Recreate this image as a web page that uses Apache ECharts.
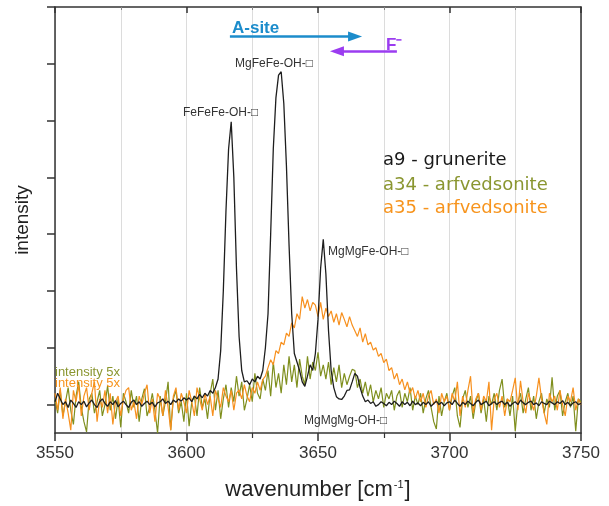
<!DOCTYPE html>
<html>
<head>
<meta charset="utf-8">
<script src="https://cdn.jsdelivr.net/npm/echarts@6/dist/echarts.min.js"></script>
<style>
html,body{margin:0;padding:0;background:#fff;}
#chart{width:609px;height:506px;}
</style>
</head>
<body>
<div id="chart"></div>
<script>
// ---- data (wavenumber grid: 3550..3750 cm^-1, step 1) ----
var wnStart = 3550;
var wnStep = 1;
var xTicks = [3550, 3600, 3650, 3700, 3750];
var yTicks = [0, 1, 2, 3, 4, 5, 6, 7];

var a9_grunerite = [
 0.05, 0.20, 0.10, 0.00, 0.05, -0.05, 0.08, 0.02, -0.05, 0.05,
 0.00, 0.06, -0.04, 0.03, 0.08, 0.00, -0.05, 0.05, 0.10, 0.02,
 -0.03, 0.05, 0.00, 0.07, -0.04, 0.02, 0.06, 0.00, -0.05, 0.04,
 0.08, 0.00, 0.05, -0.03, 0.02, 0.06, 0.00, 0.04, -0.04, 0.03,
 0.05, 0.10, 0.02, 0.06, 0.00, 0.08, 0.04, 0.10, 0.06, 0.12,
 0.08, 0.12, 0.05, 0.15, 0.10, 0.18, 0.12, 0.20, 0.15, 0.25,
 0.20, 0.30, 0.45, 0.95, 2.00, 3.40, 4.50, 4.98, 4.00, 2.40,
 1.20, 0.60, 0.40, 0.42, 0.35, 0.45, 0.40, 0.50, 0.45, 0.60,
 1.00, 1.60, 3.00, 4.50, 5.40, 5.80, 5.86, 5.30, 4.20, 2.80,
 1.60, 0.90, 0.75, 0.60, 0.40, 0.32, 0.50, 0.70, 0.60, 0.90,
 1.50, 2.40, 2.91, 2.30, 1.30, 0.60, 0.30, 0.14, 0.10, 0.09,
 0.15, 0.25, 0.26, 0.40, 0.55, 0.50, 0.30, 0.15, 0.05, 0.08,
 0.02, 0.05, -0.03, 0.00, 0.05, 0.02, -0.02, 0.04, 0.00, 0.06,
 0.02, -0.03, 0.05, 0.00, 0.04, -0.02, 0.06, 0.00, 0.03, -0.02,
 0.04, 0.00, 0.05, -0.03, 0.02, 0.06, 0.00, 0.04, -0.02, 0.03,
 0.05, 0.00, 0.08, 0.02, -0.03, 0.04, 0.00, 0.06, 0.02, -0.02,
 0.04, 0.08, 0.00, 0.03, 0.06, -0.02, 0.02, 0.05, 0.00, 0.04,
 0.06, 0.00, 0.04, -0.03, 0.02, 0.05, 0.00, 0.08, 0.03, 0.00,
 0.04, 0.06, 0.00, 0.03, -0.02, 0.05, 0.02, 0.00, 0.06, 0.03,
 0.00, 0.05, 0.02, 0.07, 0.00, 0.04, -0.02, 0.03, 0.05, 0.00,
 0.02
];

var a34_arfvedsonite = [
 0.10, -0.15, 0.25, -0.20, 0.05, 0.30, -0.10, -0.35, 0.15, 0.40,
 -0.05, -0.30, -0.48, 0.10, 0.20, -0.15, 0.05, 0.25, -0.20, 0.00,
 0.33, -0.10, 0.15, -0.25, 0.10, -0.40, 0.20, 0.05, -0.15, 0.25,
 -0.05, 0.15, -0.30, 0.10, 0.28, -0.20, -0.05, 0.20, -0.10, -0.50,
 0.15, -0.20, 0.05, 0.40, -0.45, 0.10, 0.25, -0.15, 0.05, -0.30,
 0.20, -0.38, 0.05, 0.15, -0.20, 0.30, -0.05, 0.10, -0.25, 0.20,
 0.45, -0.10, 0.25, -0.25, 0.10, 0.35, -0.05, 0.30, 0.05, 0.50,
 0.15, 0.40, -0.10, 0.10, 0.35, 0.05, 0.55, 0.20, 0.10, 0.45,
 0.25, 0.60, 0.15, 0.75, 0.30, 0.55, 0.20, 0.70, 0.35, 0.85,
 0.40, 0.70, 0.30, 0.80, 0.50, 0.35, 0.85, 0.45, 0.75, 0.60,
 0.92, 0.50, 0.70, 0.45, 0.75, 0.35, 0.65, 0.40, 0.70, 0.30,
 0.55, 0.35, 0.50, 0.62, 0.60, 0.30, 0.45, 0.20, 0.40, 0.15,
 0.35, 0.05, 0.25, 0.10, 0.30, -0.05, 0.20, 0.10, 0.25, -0.10,
 0.15, 0.25, -0.05, 0.20, 0.05, 0.30, -0.10, 0.15, 0.00, 0.20,
 -0.15, 0.10, 0.25, -0.05, -0.30, -0.43, 0.15, -0.20, 0.05, 0.20,
 -0.10, 0.15, 0.30, -0.20, -0.40, 0.10, 0.25, -0.05, 0.15, -0.25,
 0.05, 0.20, -0.15, 0.10, -0.30, 0.15, 0.00, 0.20, -0.10, 0.25,
 0.45, -0.05, 0.10, -0.20, 0.15, -0.47, 0.05, 0.20, -0.15, 0.10,
 0.30, -0.10, 0.15, -0.25, 0.05, 0.20, -0.15, 0.10, -0.05, 0.48,
 -0.10, 0.15, 0.25, -0.20, 0.05, 0.20, -0.05, 0.15, -0.47, 0.10,
 0.05
];

var a35_arfvedsonite = [
 0.20, -0.10, 0.30, -0.25, 0.10, -0.15, -0.45, 0.25, 0.05, 0.35,
 -0.20, 0.15, 0.30, -0.10, 0.20, 0.40, -0.30, 0.10, -0.05, 0.25,
 -0.15, 0.20, -0.35, 0.05, 0.15, -0.20, 0.10, 0.25, 0.30, -0.10,
 0.05, -0.25, 0.15, 0.00, 0.20, 0.35, -0.15, 0.10, -0.30, 0.20,
 0.10, -0.20, 0.25, -0.05, -0.45, 0.15, 0.30, -0.10, 0.20, 0.05,
 -0.15, 0.25, 0.05, -0.20, 0.30, 0.10, -0.10, 0.20, 0.00, 0.15,
 -0.20, 0.25, 0.10, -0.05, 0.30, 0.15, 0.05, 0.25, -0.10, 0.20,
 0.26, 0.10, 0.35, 0.15, 0.05, 0.30, 0.20, 0.40, 0.25, 0.44,
 0.50, 0.65, 0.79, 0.70, 0.95, 0.90, 1.10, 1.05, 1.26, 1.20,
 1.44, 1.35, 1.60, 1.50, 1.90, 1.70, 1.85, 1.65, 1.80, 1.75,
 1.55, 1.80, 1.50, 1.70, 1.55, 1.65, 1.45, 1.60, 1.40, 1.62,
 1.50, 1.37, 1.55, 1.40, 1.30, 1.20, 1.35, 1.10, 1.25, 1.05,
 1.10, 0.96, 1.00, 0.85, 0.90, 0.74, 0.80, 0.60, 0.65, 0.45,
 0.55, 0.35, 0.45, 0.26, 0.40, 0.20, 0.30, 0.10, 0.25, 0.05,
 0.20, -0.05, 0.15, 0.25, 0.00, 0.10, -0.15, 0.20, 0.05, 0.15,
 -0.10, 0.20, 0.05, 0.40, -0.20, 0.15, -0.05, 0.25, 0.50, -0.15,
 0.10, 0.20, -0.10, 0.15, 0.05, 0.40, -0.45, 0.10, 0.20, -0.05,
 0.15, -0.20, 0.10, 0.05, 0.25, 0.47, -0.10, 0.42, 0.05, -0.15,
 0.20, 0.05, -0.10, 0.15, 0.47, 0.10, -0.15, -0.35, 0.20, 0.05,
 0.15, -0.10, 0.25, 0.00, -0.20, 0.15, 0.05, 0.30, -0.10, 0.10,
 0.00
];

// annotation arrows (data coordinates: [wavenumber, intensity])
var aSiteArrow = [[3616.5, 6.48], [3664.1, 6.48]];
var fArrow = [[3680.0, 6.22], [3657.2, 6.22]];

// ---- build ----
function toPairs(arr) {
  return arr.map(function (v, i) { return [wnStart + i * wnStep, v]; });
}

var COLORS = { a9: '#1e1e1e', a34: '#7f8f1e', a35: '#f7901e' };
var FONT = 'Liberation Sans, Arial, sans-serif';

var chart = echarts.init(document.getElementById('chart'), null, { renderer: 'canvas' });

var axisCommon = {
  type: 'value', min: 3550, max: 3750, interval: 50
};

var option = {
  animation: false,
  textStyle: { fontFamily: FONT },
  grid: { left: 55, right: 28, top: 7, bottom: 72, show: false },
  xAxis: [
    Object.assign({}, axisCommon, {
      position: 'bottom',
      name: '{n|wavenumber [cm}{s|-1}{n|]}',
      nameLocation: 'middle',
      nameGap: 46,
      nameTextStyle: {
        rich: {
          n: { fontSize: 22, color: '#222', fontFamily: FONT, verticalAlign: 'bottom' },
          s: { fontSize: 11, color: '#222', fontFamily: FONT, verticalAlign: 'top', padding: [0, 1, 0, 1] }
        }
      },
      axisLine: { show: true, onZero: false, lineStyle: { color: '#333', width: 1.5 } },
      axisTick: { show: true, inside: false, length: 8, lineStyle: { color: '#333', width: 1.5 } },
      minorTick: { show: true, splitNumber: 2, length: 5, lineStyle: { color: '#333', width: 1.2 } },
      splitLine: { show: true, lineStyle: { color: '#dcdcdc', width: 1 } },
      minorSplitLine: { show: true, lineStyle: { color: '#dcdcdc', width: 1 } },
      axisLabel: { show: true, fontSize: 17, color: '#333', margin: 12, fontFamily: FONT,
        customValues: xTicks, formatter: function (v) { return String(v); } }
    }),
    Object.assign({}, axisCommon, {
      position: 'top',
      axisLine: { show: true, onZero: false, lineStyle: { color: '#333', width: 1.5 } },
      axisTick: { show: true, inside: true, length: 6, lineStyle: { color: '#333', width: 1.5 } },
      minorTick: { show: true, splitNumber: 2, length: 3, lineStyle: { color: '#888', width: 1 } },
      splitLine: { show: false },
      axisLabel: { show: false }
    })
  ],
  yAxis: [
    {
      type: 'value', min: -0.5, max: 7, position: 'left',
      name: 'intensity', nameLocation: 'middle', nameGap: 23,
      nameTextStyle: { fontSize: 19, color: '#222', fontFamily: FONT },
      axisLine: { show: true, onZero: false, lineStyle: { color: '#333', width: 1.5 } },
      axisTick: { show: true, inside: false, length: 8, customValues: yTicks,
        lineStyle: { color: '#333', width: 1.5 } },
      axisLabel: { show: false, customValues: yTicks },
      splitLine: { show: false }
    },
    {
      type: 'value', min: -0.5, max: 7, position: 'right',
      axisLine: { show: true, onZero: false, lineStyle: { color: '#333', width: 1.5 } },
      axisTick: { show: false },
      axisLabel: { show: false },
      splitLine: { show: false }
    }
  ],
  series: [
    {
      name: 'a34 - arfvedsonite', type: 'line', xAxisIndex: 0, yAxisIndex: 0,
      data: toPairs(a34_arfvedsonite), showSymbol: false, smooth: false,
      lineStyle: { color: COLORS.a34, width: 1.2 }, itemStyle: { color: COLORS.a34 },
      emphasis: { disabled: true }, z: 2
    },
    {
      name: 'a35 - arfvedsonite', type: 'line', xAxisIndex: 0, yAxisIndex: 0,
      data: toPairs(a35_arfvedsonite), showSymbol: false, smooth: false,
      lineStyle: { color: COLORS.a35, width: 1.2 }, itemStyle: { color: COLORS.a35 },
      emphasis: { disabled: true }, z: 3
    },
    {
      name: 'a9 - grunerite', type: 'line', xAxisIndex: 0, yAxisIndex: 0,
      data: toPairs(a9_grunerite), showSymbol: false, smooth: false,
      lineStyle: { color: COLORS.a9, width: 1.3 }, itemStyle: { color: COLORS.a9 },
      emphasis: { disabled: true }, z: 4,
      markLine: {
        silent: true, animation: false,
        label: { show: false },
        lineStyle: { type: 'solid' },
        symbolSize: [10, 14],
        data: [
          [
            { coord: aSiteArrow[0], symbol: 'none', lineStyle: { color: '#1c8ccb', width: 2.5, type: 'solid' }, itemStyle: { color: '#1c8ccb' } },
            { coord: aSiteArrow[1], symbol: 'triangle' }
          ],
          [
            { coord: fArrow[0], symbol: 'none', lineStyle: { color: '#9b3cf0', width: 2.5, type: 'solid' }, itemStyle: { color: '#9b3cf0' } },
            { coord: fArrow[1], symbol: 'triangle' }
          ]
        ]
      }
    }
  ],
  graphic: [
    { type: 'text', left: 232, top: 20, z: 100, style: { text: 'A-site', fill: '#1c8ccb', font: 'bold 17px ' + FONT } },
    { type: 'text', left: 386, top: 37, z: 100, style: { text: 'F\u207B', fill: '#9b3cf0', font: 'bold 17px ' + FONT } },

    { type: 'text', left: 235, top: 58, z: 100, style: { text: 'MgFeFe-OH-\u25A1', fill: '#333', font: '12px ' + FONT } },
    { type: 'text', left: 183, top: 107, z: 100, style: { text: 'FeFeFe-OH-\u25A1', fill: '#333', font: '12px ' + FONT } },
    { type: 'text', left: 328, top: 246, z: 100, style: { text: 'MgMgFe-OH-\u25A1', fill: '#333', font: '12px ' + FONT } },
    { type: 'text', left: 304, top: 415, z: 100, style: { text: 'MgMgMg-OH-\u25A1', fill: '#333', font: '12px ' + FONT } },

    { type: 'text', left: 383, top: 151, z: 100, style: { text: 'a9 - grunerite', fill: '#1a1a1a', font: '18px DejaVu Sans, sans-serif' } },
    { type: 'text', left: 383, top: 176, z: 100, style: { text: 'a34 - arfvedsonite', fill: '#8a9630', font: '18px DejaVu Sans, sans-serif' } },
    { type: 'text', left: 383, top: 199, z: 100, style: { text: 'a35 - arfvedsonite', fill: '#f7941d', font: '18px DejaVu Sans, sans-serif' } },

    { type: 'text', left: 55, top: 366, z: 100, style: { text: 'intensity 5x', fill: '#8a9630', font: '13px ' + FONT } },
    { type: 'text', left: 55, top: 377, z: 100, style: { text: 'intensity 5x', fill: '#f7941d', font: '13px ' + FONT } }
  ]
};

chart.setOption(option);
</script>
</body>
</html>
